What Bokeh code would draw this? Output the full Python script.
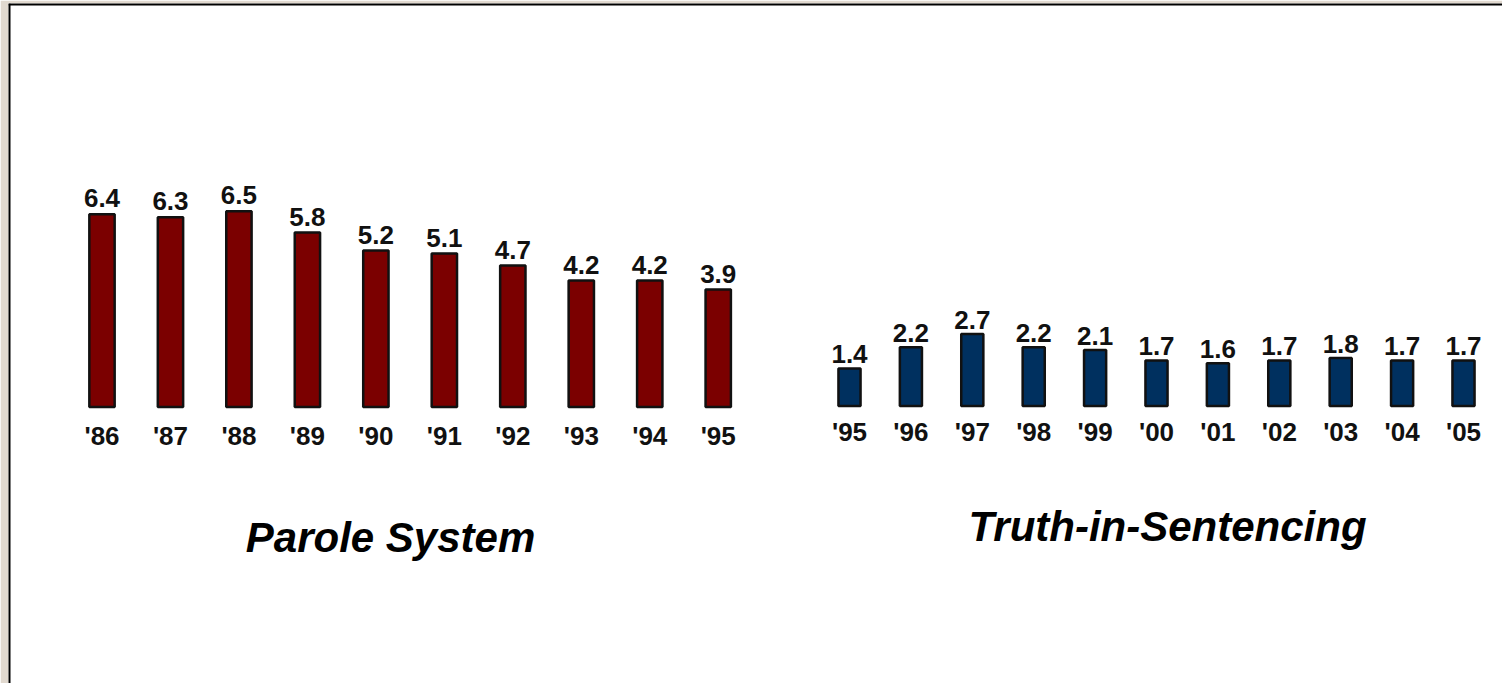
from bokeh.plotting import figure
from bokeh.models import Range1d, Span
from bokeh.core.properties import value
from bokeh.embed import file_html
from bokeh.resources import INLINE

# ---- data ----
parole_years = ["'86", "'87", "'88", "'89", "'90", "'91", "'92", "'93", "'94", "'95"]
parole_values = [6.4, 6.3, 6.5, 5.8, 5.2, 5.1, 4.7, 4.2, 4.2, 3.9]
tis_years = ["'95", "'96", "'97", "'98", "'99", "'00", "'01", "'02", "'03", "'04", "'05"]
tis_values = [1.4, 2.2, 2.7, 2.2, 2.1, 1.7, 1.6, 1.7, 1.8, 1.7, 1.7]
titles = ["Parole System", "Truth-in-Sentencing"]

# ---- layout (pixels) ----
W, H = 1502, 683
BL, BT = 8, 3
FW, FH = W - BL, H - BT

# frame-relative: first bar centre, step, zero line, px per unit
L_X0, L_STEP, L_Y0, L_PPU = 101.5 - BL, 68.47, 406.5 - BT, 30.1
R_X0, R_STEP, R_Y0, R_PPU = 849.0 - BL, 61.4, 405.5 - BT, 26.7

VAL_FS, CAT_FS, TTL_FS = 26, 26, 42
SHIFT = 0.38  # baseline correction (em)


def xr(x0, step):
    s = -x0 / step
    return Range1d(s, s + FW / step)


def yr(y0, ppu):
    e = y0 / ppu
    return Range1d(e - FH / ppu, e)


lx, ly = xr(L_X0, L_STEP), yr(L_Y0, L_PPU)
rx, ry = xr(R_X0, R_STEP), yr(R_Y0, R_PPU)

p = figure(width=W, height=H, x_range=lx, y_range=ly,
           output_backend="svg", toolbar_location=None,
           x_axis_location=None, y_axis_location=None,
           min_border_left=BL, min_border_top=BT,
           min_border_right=0, min_border_bottom=0)
p.extra_x_ranges = {"tis": rx}
p.extra_y_ranges = {"tis": ry}
p.xgrid.visible = False
p.ygrid.visible = False
p.outline_line_color = None
p.background_fill_color = "white"
p.border_fill_color = "#e1d9cf"

p.add_layout(Span(location=lx.start, dimension="height", line_color="black", line_width=4))
p.add_layout(Span(location=ly.end, dimension="width", line_color="black", line_width=4))

FONT = value("Liberation Sans")
TXT = "#111111"

# parole bars
lidx = list(range(len(parole_values)))
p.vbar(x=lidx, top=parole_values, bottom=0, width=0.37,
       fill_color="#7b0000", line_color="#111111", line_width=2.5)
p.text(x=lidx, y=parole_values, text=[f"{v:.1f}" for v in parole_values],
       text_align="center", text_baseline="alphabetic", y_offset=-6 - SHIFT * VAL_FS,
       text_font=FONT, text_font_style="bold", text_font_size=f"{VAL_FS}px", text_color=TXT)
p.text(x=lidx, y=[0] * len(lidx), text=parole_years,
       text_align="center", text_baseline="alphabetic", y_offset=38.5 - SHIFT * CAT_FS,
       text_font=FONT, text_font_style="bold", text_font_size=f"{CAT_FS}px", text_color=TXT)

# TIS bars
ridx = list(range(len(tis_values)))
p.vbar(x=ridx, top=tis_values, bottom=0, width=0.36,
       fill_color="#00305f", line_color="#111111", line_width=2.5,
       x_range_name="tis", y_range_name="tis")
p.text(x=ridx, y=tis_values, text=[f"{v:.1f}" for v in tis_values],
       text_align="center", text_baseline="alphabetic", y_offset=-4.5 - SHIFT * VAL_FS,
       text_font=FONT, text_font_style="bold", text_font_size=f"{VAL_FS}px", text_color=TXT,
       x_range_name="tis", y_range_name="tis")
p.text(x=ridx, y=[0] * len(ridx), text=tis_years,
       text_align="center", text_baseline="alphabetic", y_offset=35.5 - SHIFT * CAT_FS,
       text_font=FONT, text_font_style="bold", text_font_size=f"{CAT_FS}px", text_color=TXT,
       x_range_name="tis", y_range_name="tis")

# titles (positions from pixel layout)
lt_x = lx.start + (390 - BL) / L_STEP
lt_y = ly.end - (553 - BT) / L_PPU
rt_x = rx.start + (1167 - BL) / R_STEP
rt_y = ry.end - (542 - BT) / R_PPU
p.text(x=[lt_x], y=[lt_y], text=[titles[0]], text_align="center", text_baseline="alphabetic",
       y_offset=-SHIFT * TTL_FS,
       text_font=FONT, text_font_style="bold italic", text_font_size=f"{TTL_FS}px", text_color="black")
p.text(x=[rt_x], y=[rt_y], text=[titles[1]], text_align="center", text_baseline="alphabetic",
       y_offset=-SHIFT * TTL_FS,
       text_font=FONT, text_font_style="bold italic", text_font_size=f"{TTL_FS}px", text_color="black",
       x_range_name="tis", y_range_name="tis")

open("out.html", "w").write(file_html(p, INLINE))
